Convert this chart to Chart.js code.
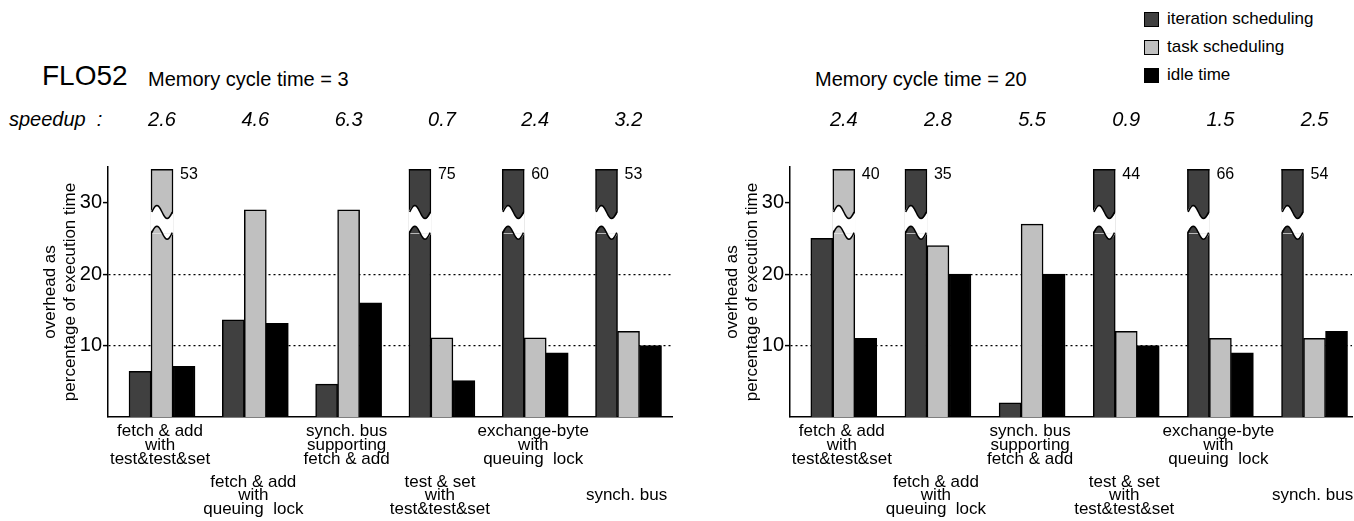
<!DOCTYPE html>
<html>
<head>
<meta charset="utf-8">
<script src="https://cdn.jsdelivr.net/npm/chart.js@4.4.1/dist/chart.umd.min.js"></script>
<style>
body{margin:0;width:1354px;height:521px;position:relative;background:#fff;overflow:hidden;
  font-family:"Liberation Sans",Arial,sans-serif;color:#000}
canvas{position:absolute;top:0}
#c3{left:0}
#c20{left:680px}
.t{position:absolute;white-space:nowrap;line-height:1}
.sq{position:absolute;width:15px;height:15px;border:1px solid #000;box-sizing:border-box}
</style>
</head>
<body>
<div class="t" style="left:42px;top:62px;font-size:28px">FLO52</div>
<div class="t" style="left:148px;top:69px;font-size:20px">Memory cycle time = 3</div>
<div class="t" style="left:815px;top:69px;font-size:20px">Memory cycle time = 20</div>
<div class="t" style="left:9px;top:109px;font-size:20px;font-style:italic">speedup &nbsp;:</div>

<div class="sq" style="left:1144px;top:12px;background:#404040"></div>
<div class="t" style="left:1167px;top:10px;font-size:17px">iteration scheduling</div>
<div class="sq" style="left:1144px;top:40px;background:#c0c0c0"></div>
<div class="t" style="left:1167px;top:38px;font-size:17px">task scheduling</div>
<div class="sq" style="left:1144px;top:68px;background:#000"></div>
<div class="t" style="left:1167px;top:66px;font-size:17px">idle time</div>

<canvas id="c3" width="680" height="521"></canvas>
<canvas id="c20" width="674" height="521"></canvas>

<script>
const FONT = '"Liberation Sans", Arial, sans-serif';

const categories = [
  ['fetch & add', 'with', 'test&test&set'],
  ['fetch & add', 'with', 'queuing  lock'],
  ['synch. bus', 'supporting', 'fetch & add'],
  ['test & set', 'with', 'test&test&set'],
  ['exchange-byte', 'with', 'queuing  lock'],
  ['synch. bus']
];
const seriesNames = ['iteration scheduling', 'task scheduling', 'idle time'];

// memory cycle time = 3
const speedup3 = [2.6, 4.6, 6.3, 0.7, 2.4, 3.2];
const iter3 = [6.4, 13.6, 4.6, 75, 60, 53];
const task3 = [53, 29, 29, 11.1, 11.1, 12];
const idle3 = [7.1, 13.1, 16, 5.1, 9, 10];

// memory cycle time = 20
const speedup20 = [2.4, 2.8, 5.5, 0.9, 1.5, 2.5];
const iter20 = [25, 35, 2, 44, 66, 54];
const task20 = [40, 24, 27, 12, 11, 11];
const idle20 = [11, 20, 20, 10, 9, 12];

const colors = ['#404040', '#c0c0c0', '#000000'];
const Y_MAX = 35;
const BREAK_LO = 25.8, BREAK_HI = 28.7;

function extras(speedup) {
  return {
    id: 'extras',
    afterDatasetsDraw(chart) {
      const ctx = chart.ctx, ys = chart.scales.y, area = chart.chartArea;
      const yHi = ys.getPixelForValue(BREAK_HI), yLo = ys.getPixelForValue(BREAK_LO);
      const amp = 6.5, n = 24;
      chart.data.datasets.forEach((ds, di) => {
        chart.getDatasetMeta(di).data.forEach((bar, i) => {
          const v = ds.data[i].y;
          if (v < Y_MAX) return;
          const l = bar.x - bar.width / 2, r = bar.x + bar.width / 2;
          const wave = (base, t) => base - amp * Math.sin(2 * Math.PI * t);
          ctx.save();
          // cut the gap
          ctx.beginPath();
          for (let k = 0; k <= n; k++) ctx.lineTo(l - 0.5 + (r - l + 1) * k / n, wave(yHi, k / n));
          for (let k = n; k >= 0; k--) ctx.lineTo(l - 0.5 + (r - l + 1) * k / n, wave(yLo, k / n));
          ctx.closePath();
          ctx.fillStyle = '#fff';
          ctx.fill();
          // faint flat line on lower piece
          ctx.strokeStyle = 'rgba(235,235,235,0.7)';
          ctx.lineWidth = 1;
          ctx.beginPath();
          ctx.moveTo(l + 1.5, Math.round(yLo) + 0.5);
          ctx.lineTo(r - 1.5, Math.round(yLo) + 0.5);
          ctx.stroke();
          // wave edges
          ctx.strokeStyle = '#000';
          ctx.lineWidth = 1.5;
          [yHi, yLo].forEach(base => {
            ctx.beginPath();
            for (let k = 0; k <= n; k++) ctx.lineTo(l + 0.75 + (r - l - 1.5) * k / n, wave(base, k / n));
            ctx.stroke();
          });
          // top edge
          ctx.beginPath();
          ctx.moveTo(l, area.top + 2.75);
          ctx.lineTo(r, area.top + 2.75);
          ctx.stroke();
          // real value
          ctx.fillStyle = '#000';
          ctx.font = '16px ' + FONT;
          ctx.textBaseline = 'top';
          ctx.textAlign = 'left';
          ctx.fillText(String(v), r + 7, area.top);
          ctx.restore();
        });
      });
    },
    afterDraw(chart) {
      const ctx = chart.ctx, xs = chart.scales.x, area = chart.chartArea;
      ctx.save();
      ctx.fillStyle = '#000';
      ctx.textAlign = 'center';
      ctx.textBaseline = 'alphabetic';
      ctx.font = 'italic 20px ' + FONT;
      speedup.forEach((s, i) => ctx.fillText(s.toFixed(1), xs.getPixelForValue(i), 126));
      ctx.textBaseline = 'middle';
      ctx.font = '17px ' + FONT;
      const lh = 13.7;
      categories.forEach((lines, i) => {
        const cx = xs.getPixelForValue(i) - 2;
        const cy = area.bottom + (i % 2 ? 78.6 : 28.3);
        lines.forEach((s, k) => ctx.fillText(s, cx, cy + (k - (lines.length - 1) / 2) * lh));
      });
      ctx.restore();
    }
  };
}

function drawPanel(id, values, speedup, xMin, xMax, axisW, padRight) {
  new Chart(document.getElementById(id), {
    type: 'bar',
    data: {
      datasets: values.map((arr, k) => ({
        label: seriesNames[k],
        data: arr.map((v, i) => ({x: i, y: v})),
        backgroundColor: colors[k]
      }))
    },
    options: {
      responsive: false,
      animation: false,
      layout: {padding: {left: 0, top: 167, right: padRight, bottom: 104}},
      datasets: {
        bar: {
          barThickness: 22,
          borderWidth: 1.5,
          borderColor: '#000',
          clip: {left: 0, top: -2, right: 0, bottom: 0}
        }
      },
      plugins: {legend: {display: false}, tooltip: {enabled: false}},
      scales: {
        x: {
          type: 'linear', min: xMin, max: xMax, offset: false,
          ticks: {display: false},
          grid: {display: false},
          border: {color: '#000', width: 1.5},
          afterFit: s => { s.height = 0; }
        },
        y: {
          min: 0, max: Y_MAX,
          afterBuildTicks: s => { s.ticks = s.ticks.filter(t => t.value > 0 && t.value <= 30); },
          ticks: {stepSize: 10, color: '#000', font: {size: 20, family: FONT}, padding: 1},
          grid: {
            color: c => (c.tick && c.tick.value === 30) ? 'rgba(0,0,0,0)' : '#000',
            lineWidth: 1.2, tickColor: '#000', tickLength: 5, tickWidth: 1.5
          },
          border: {color: '#000', width: 1.5, dash: [2, 3]},
          title: {
            display: true,
            text: ['overhead as', 'percentage of execution time'],
            color: '#000',
            font: {size: 17, family: FONT, lineHeight: 1.18},
            padding: {top: axisW - 68, bottom: 0}
          },
          afterFit: s => { s.width = axisW; }
        }
      }
    },
    plugins: [extras(speedup)]
  });
}

drawPanel('c3', [iter3, task3, idle3], speedup3, -0.579, 5.466, 108, 8);
drawPanel('c20', [iter20, task20, idle20], speedup20, -0.5715, 5.398, 110, 2);
</script>
</body>
</html>
